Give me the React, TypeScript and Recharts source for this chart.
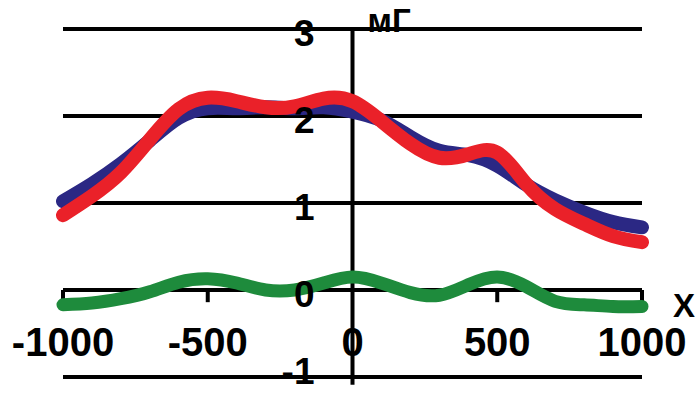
import {
	LineChart,
	Line,
	XAxis,
	YAxis,
	ReferenceLine,
	ReferenceDot
} from "recharts";

// distance along the profile
const xs = [-1000, -900, -800, -700, -600, -500, -400, -300, -200, -100, 0, 100, 200, 300, 400, 500, 600, 700, 800, 900, 1000];

// мГ values
const blueValues = [1.02, 1.22, 1.45, 1.72, 1.98, 2.09, 2.09, 2.1, 2.09, 2.1, 2.05, 1.95, 1.76, 1.6, 1.55, 1.43, 1.21, 1.03, 0.89, 0.78, 0.72];
const redValues = [0.86, 1.08, 1.35, 1.73, 2.08, 2.21, 2.17, 2.1, 2.11, 2.2, 2.17, 1.94, 1.68, 1.52, 1.56, 1.58, 1.22, 0.93, 0.76, 0.62, 0.55];
const greenValues = [-0.17, -0.15, -0.1, -0.02, 0.09, 0.13, 0.08, 0.0, 0.0, 0.08, 0.15, 0.08, -0.03, -0.06, 0.06, 0.15, 0.04, -0.13, -0.17, -0.19, -0.19];

const gridLevels = [3, 2, 1, -1];
const yTicks = [3, 2, 1, 0, -1];
const xTicks = [-1000, -500, 0, 500, 1000];
const xTickMarks = [-1000, -500, 500, 1000];

const data = xs.map((x, i) => ({
	x,
	blue: blueValues[i],
	red: redValues[i],
	green: greenValues[i]
}));

const FONT = "'Liberation Sans', Arial, sans-serif";
const AXIS_STROKE = { stroke: "#000", strokeWidth: 4 };

export default function App() {
	return (
		<div style={{ position: "absolute", left: 0, top: 0, background: "#fff" }}>
			<LineChart width={696} height={394} data={data} margin={{ top: 29, right: 54, bottom: 17, left: 63 }}>
				<XAxis dataKey="x" type="number" domain={[-1000, 1000]} hide />
				<YAxis type="number" domain={[-1, 3]} allowDataOverflow hide />

				{gridLevels.map((v) => (
					<ReferenceLine key={`g${v}`} y={v} {...AXIS_STROKE} />
				))}
				<ReferenceLine y={0} {...AXIS_STROKE} />
				<ReferenceLine
					segment={[{ x: 0, y: 3 }, { x: 0, y: -1.09 }]}
					ifOverflow="visible"
					{...AXIS_STROKE}
				/>
				{xTickMarks.map((v) => (
					<ReferenceLine
						key={`t${v}`}
						segment={[{ x: v, y: 0 }, { x: v, y: -0.14 }]}
						{...AXIS_STROKE}
					/>
				))}

				<Line type="natural" dataKey="green" stroke="#1e8b3c" strokeWidth={13} strokeLinecap="round" dot={false} isAnimationActive={false} />
				<Line type="natural" dataKey="blue" stroke="#2b2884" strokeWidth={14} strokeLinecap="round" dot={false} isAnimationActive={false} />
				<Line type="natural" dataKey="red" stroke="#ea2129" strokeWidth={14} strokeLinecap="round" dot={false} isAnimationActive={false} />

				{yTicks.map((v) => (
					<ReferenceDot
						key={`yl${v}`}
						x={0}
						y={v < 0 ? v + 0.07 : v - 0.04}
						r={0}
						fill="none"
						stroke="none"
						ifOverflow="visible"
						label={{ value: String(v), position: "left", offset: 38, fill: "#000", fontSize: 37, fontWeight: 700, fontFamily: FONT }}
					/>
				))}
				{xTicks.map((v) => (
					<ReferenceDot
						key={`xl${v}`}
						x={v}
						y={-0.6}
						r={0}
						fill="none"
						stroke="none"
						ifOverflow="visible"
						label={{ value: String(v), position: "center", fill: "#000", fontSize: 40, fontWeight: 700, fontFamily: FONT }}
					/>
				))}
				<ReferenceDot
					x={1145}
					y={-0.17}
					r={0}
					fill="none"
					stroke="none"
					ifOverflow="visible"
					label={{ value: "X", position: "center", fill: "#000", fontSize: 33, fontWeight: 700, fontFamily: FONT }}
				/>
				<ReferenceDot
					x={0}
					y={3.1}
					r={0}
					fill="none"
					stroke="none"
					ifOverflow="visible"
					label={{ value: "мГ", position: "right", offset: 15, fill: "#000", fontSize: 33, fontWeight: 700, fontFamily: FONT }}
				/>
			</LineChart>
		</div>
	);
}
